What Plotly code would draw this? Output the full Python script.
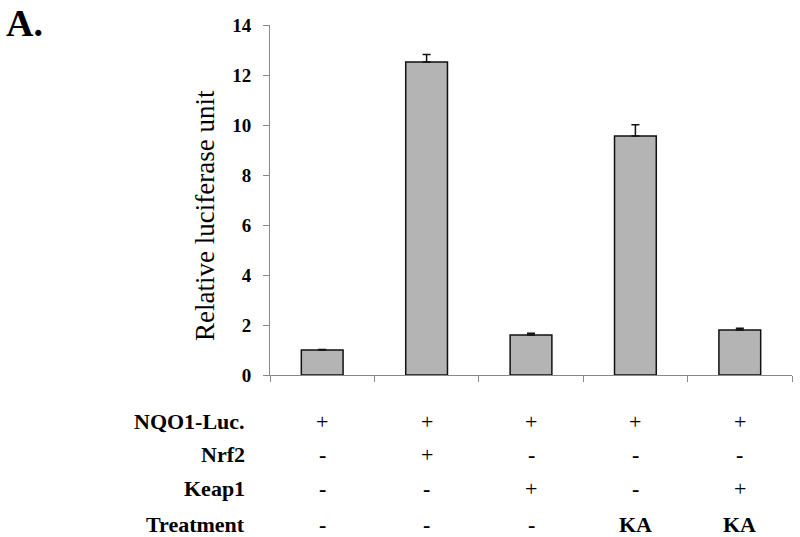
import plotly.graph_objects as go

categories = ["c1", "c2", "c3", "c4", "c5"]
values = [1.0, 12.52, 1.6, 9.56, 1.8]
errors = [0.02, 0.3, 0.07, 0.45, 0.07]
row_labels = ["NQO1-Luc.", "Nrf2", "Keap1", "Treatment"]
table = [
    ["+", "+", "+", "+", "+"],
    ["-", "+", "-", "-", "-"],
    ["-", "-", "+", "-", "+"],
    ["-", "-", "-", "KA", "KA"],
]
y_ticks = [0, 2, 4, 6, 8, 10, 12, 14]
y_title = "Relative luciferase unit"

FONT = "Liberation Serif, Times New Roman, serif"

L, R, T, B = 270, 8, 25, 162
W, H = 800, 537
PW, PH = W - L - R, H - T - B

def px_x(x):
    return (x - L) / PW

def px_y(y):
    return (H - B - y) / PH

fig = go.Figure()
fig.add_trace(go.Bar(
    x=categories, y=values, width=0.4,
    marker=dict(color="#b4b4b4", line=dict(color="#111111", width=1.5)),
    error_y=dict(type="data", array=errors, symmetric=False, arrayminus=[0]*5,
                 color="#111111", thickness=1.5, width=4),
))

row_y = [421, 454, 489, 524]
annotations = []
for r, lab in enumerate(row_labels):
    yp = px_y(row_y[r])
    annotations.append(dict(text="<b>%s</b>" % lab, xref="paper", yref="paper",
                            x=px_x(247), y=yp, xanchor="right", yanchor="middle",
                            showarrow=False, font=dict(family=FONT, size=22, color="black")))
    for c, cat in enumerate(categories):
        t = table[r][c]
        txt = t if t == "+" else "<b>%s</b>" % t
        annotations.append(dict(text=txt, xref="x", yref="paper", x=cat, y=yp,
                                xanchor="center", yanchor="middle", showarrow=False,
                                font=dict(family=FONT, size=22, color="black")))
annotations.append(dict(text="<b>A.</b>", xref="paper", yref="paper", x=px_x(4),
                        y=px_y(0), xanchor="left", yanchor="top", showarrow=False,
                        font=dict(family=FONT, size=38, color="black")))
annotations.append(dict(text=y_title, xref="paper", yref="paper", x=px_x(205),
                        y=px_y(216), xanchor="center", yanchor="middle", textangle=-90,
                        showarrow=False, font=dict(family=FONT, size=27, color="black")))

fig.update_layout(
    width=W, height=H,
    margin=dict(l=L, r=R, t=T, b=B),
    paper_bgcolor="white", plot_bgcolor="white",
    showlegend=False,
    font=dict(family=FONT, color="black"),
    xaxis=dict(showticklabels=False, tickson="boundaries", ticks="outside", ticklen=6,
               tickcolor="#888888", showline=True, linecolor="#888888", linewidth=1,
               showgrid=False, zeroline=False),
    yaxis=dict(range=[0, 14], tickvals=y_ticks, ticktext=["<b>%d</b>" % v for v in y_ticks],
               ticks="outside", ticklen=6, tickcolor="#888888", showline=True,
               linecolor="#888888", linewidth=1, showgrid=False, zeroline=False,
               ticklabelstandoff=8,
               tickfont=dict(family=FONT, size=19, color="black")),
    annotations=annotations,
)
fig.write_html("out.html", config={"displayModeBar": False},
               post_script="document.body.style.margin='0';")
